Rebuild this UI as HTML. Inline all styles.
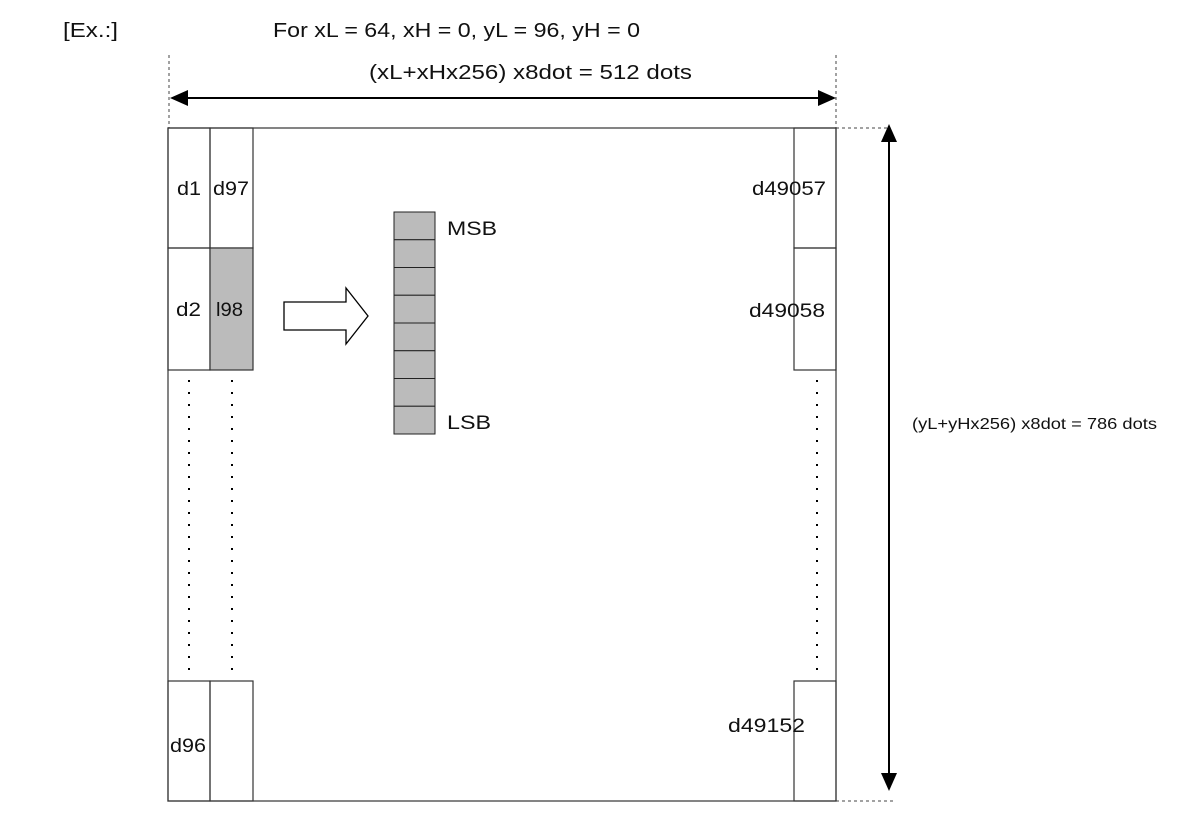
<!DOCTYPE html>
<html><head><style>
body{margin:0;background:#fff;}
svg text{font-family:"Liberation Sans",Arial,sans-serif;fill:#111;}
</style></head><body>
<svg width="1177" height="835" xmlns="http://www.w3.org/2000/svg">
<text x="63" y="37" font-size="20" textLength="55" lengthAdjust="spacingAndGlyphs">[Ex.:]</text>
<text x="273" y="37" font-size="20" textLength="367" lengthAdjust="spacingAndGlyphs">For xL = 64, xH = 0, yL = 96, yH = 0</text>
<text x="369" y="79" font-size="20" textLength="323" lengthAdjust="spacingAndGlyphs">(xL+xHx256) x8dot = 512 dots</text>
<g stroke="#444" stroke-dasharray="3,3" stroke-width="1">
<line x1="169" y1="55" x2="169" y2="128"/>
<line x1="836" y1="55" x2="836" y2="128"/>
<line x1="836" y1="128" x2="890" y2="128"/>
<line x1="836" y1="801" x2="896" y2="801"/>
</g>
<line x1="180" y1="98" x2="825" y2="98" stroke="#000" stroke-width="2"/>
<polygon points="170,98 188,90 188,106" fill="#000"/>
<polygon points="836,98 818,90 818,106" fill="#000"/>
<line x1="889" y1="140" x2="889" y2="778" stroke="#000" stroke-width="2"/>
<polygon points="889,124 881,142 897,142" fill="#000"/>
<polygon points="889,791 881,773 897,773" fill="#000"/>
<text x="912" y="429" font-size="16" textLength="245" lengthAdjust="spacingAndGlyphs">(yL+yHx256) x8dot = 786 dots</text>
<g stroke="#333" stroke-width="1.2" fill="none">
<rect x="168" y="128" width="668" height="673"/>
<rect x="168" y="128" width="42" height="120"/>
<rect x="210" y="128" width="43" height="120"/>
<rect x="168" y="248" width="42" height="122"/>
<rect x="210" y="248" width="43" height="122" fill="#bbb"/>
<rect x="168" y="681" width="42" height="120"/>
<rect x="210" y="681" width="43" height="120"/>
<rect x="794" y="128" width="42" height="120"/>
<rect x="794" y="248" width="42" height="122"/>
<rect x="794" y="681" width="42" height="120"/>
</g>
<g stroke="#000" stroke-width="2" stroke-dasharray="2,10">
<line x1="189" y1="380" x2="189" y2="678"/>
<line x1="232" y1="380" x2="232" y2="678"/>
<line x1="817" y1="380" x2="817" y2="678"/>
</g>
<text x="177" y="195" font-size="19" textLength="24" lengthAdjust="spacingAndGlyphs">d1</text>
<text x="213" y="195" font-size="19" textLength="36" lengthAdjust="spacingAndGlyphs">d97</text>
<text x="176" y="316" font-size="19" textLength="25" lengthAdjust="spacingAndGlyphs">d2</text>
<text x="216" y="316" font-size="19" textLength="27" lengthAdjust="spacingAndGlyphs">l98</text>
<text x="170" y="752" font-size="19" textLength="36" lengthAdjust="spacingAndGlyphs">d96</text>
<text x="752" y="195" font-size="19" textLength="74" lengthAdjust="spacingAndGlyphs">d49057</text>
<text x="749" y="317" font-size="19" textLength="76" lengthAdjust="spacingAndGlyphs">d49058</text>
<text x="728" y="732" font-size="19" textLength="77" lengthAdjust="spacingAndGlyphs">d49152</text>
<polygon points="284,302 346,302 346,288 368,316 346,344 346,330 284,330" fill="#fff" stroke="#000" stroke-width="1.3"/>
<g fill="#bbb" stroke="#222" stroke-width="1">
<rect x="394" y="212" width="41" height="27.75"/>
<rect x="394" y="239.75" width="41" height="27.75"/>
<rect x="394" y="267.5" width="41" height="27.75"/>
<rect x="394" y="295.25" width="41" height="27.75"/>
<rect x="394" y="323" width="41" height="27.75"/>
<rect x="394" y="350.75" width="41" height="27.75"/>
<rect x="394" y="378.5" width="41" height="27.75"/>
<rect x="394" y="406.25" width="41" height="27.75"/>
</g>
<text x="447" y="235" font-size="19" textLength="50" lengthAdjust="spacingAndGlyphs">MSB</text>
<text x="447" y="429" font-size="19" textLength="44" lengthAdjust="spacingAndGlyphs">LSB</text>
</svg>
</body></html>
